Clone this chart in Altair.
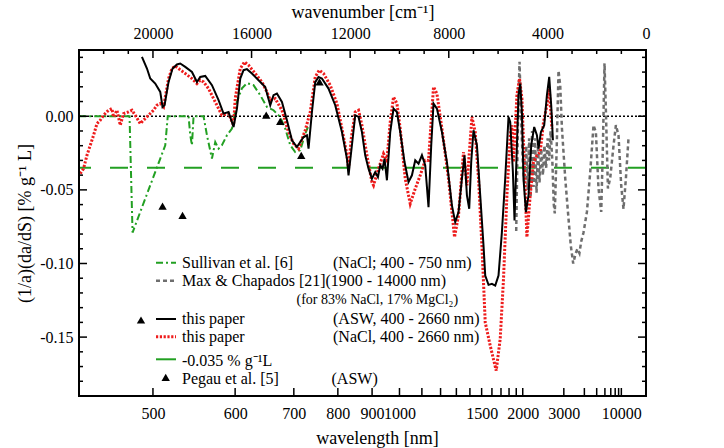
import altair as alt
import pandas as pd

FONT = "Liberation Serif"

# ---------------- data: x = wavenumber [cm^-1], y = (1/a)(da/dS) [% g^-1 L] ----------------
black_wn = [20447, 20243, 20110, 19907, 19704, 19611, 19530, 19367, 19205, 19027,
            18893, 18690, 18418, 18215, 18082, 17879, 17607, 17339, 17137, 16934,
            16731, 16593, 16459, 16325, 16188, 15985, 15717, 15445, 15242, 15109,
            14971, 14768, 14565, 14362, 14160, 13892, 13754, 13689, 13551, 13417,
            13283, 13146, 12878, 12606, 12334, 12131, 12067, 11929, 11795, 11661,
            11523, 11389, 11255, 11118, 10984, 10874, 10781, 10688, 10606, 10509,
            10375, 10241, 10103, 9970, 9795, 9633, 9495, 9361, 9227, 9089,
            8956, 8822, 8712, 8619, 8481, 8278, 8075, 7873, 7739, 7605,
            7467, 7362, 7264, 7171, 7090, 6997, 6859, 6725, 6591, 6522,
            6388, 6250, 6116, 5983, 5845, 5711, 5577, 5508, 5399, 5334,
            5236, 5171, 5102, 5033, 4969, 4871, 4766, 4656, 4535, 4425,
            4360, 4263, 4129, 4019, 3926, 3845, 3776]
black_val = [0.0403, 0.0324, 0.0256, 0.0222, 0.0165, 0.0063, 0.0075, 0.0233, 0.0324, 0.0352,
             0.0358, 0.0335, 0.0301, 0.0233, 0.0267, 0.0274, 0.0211, 0.0109, 0.0018, 0.0029,
             -0.0073, 0.0052, 0.0256, 0.0313, 0.032, 0.029, 0.0245, 0.0199, 0.0075, 0.0143,
             0.0154, 0.0097, -0.0027, -0.0163, -0.0209, -0.0141, -0.0129, -0.022, 0.0029, 0.0232,
             0.0267, 0.0256, 0.0188, 0.0075, -0.0107, -0.0288, -0.0401, -0.0197, 0.0007, -0.0005,
             -0.0107, -0.0265, -0.0356, -0.0424, -0.0379, -0.0413, -0.0333, -0.0356, -0.0288, -0.0435,
             -0.0107, 0.0052, 0.0029, -0.0107, -0.0311, -0.0447, -0.0401, -0.0299, -0.0322, -0.0265,
             -0.0333, -0.0617, -0.0197, 0.0086, 0.0052, -0.0107, -0.0311, -0.0605, -0.0719, -0.0651,
             -0.0424, -0.0265, -0.0537, -0.0628, -0.0311, -0.0095, -0.0197, -0.0537, -0.0878, -0.1082,
             -0.1145, -0.1138, -0.115, -0.1082, -0.0787, -0.0424, -0.0005, -0.0039, -0.0379, -0.0707,
             -0.0197, 0.0143, 0.0222, 0.0029, -0.0424, -0.0651, -0.0537, -0.0197, -0.0073, -0.0129,
             -0.022, -0.0107, -0.0061, 0.0143, 0.0267, 0.0075, -0.0163]

red_wn = [22949, 22815, 22677, 22543, 22409, 22271, 22138, 22004, 21801, 21663,
          21598, 21460, 21326, 21193, 20990, 20852, 20718, 20515, 20381, 20179,
          19976, 19838, 19704, 19570, 19367, 19229, 19096, 18962, 18690, 18418,
          18215, 18082, 17948, 17745, 17473, 17202, 16934, 16731, 16662, 16459,
          16285, 16123, 15851, 15579, 15376, 15242, 15040, 14768, 14500, 14297,
          14095, 13823, 13620, 13417, 13255, 13081, 12809, 12537, 12334, 12131,
          12067, 11957, 11795, 11661, 11523, 11320, 11118, 11053, 10850, 10647,
          10509, 10375, 10241, 10103, 9970, 9767, 9564, 9361, 9158, 8956,
          8822, 8619, 8481, 8278, 8011, 7767, 7605, 7402, 7264, 7061,
          6928, 6794, 6656, 6522, 6319, 6076, 5914, 5780, 5642, 5508,
          5439, 5374, 5236, 5131, 5033, 4940, 4831, 4697, 4563, 4425,
          4291, 4157, 4019, 3926, 3817]
red_val = [-0.039, -0.0356, -0.0265, -0.0197, -0.0129, -0.005, -0.0027, 0.0007, 0.0041, 0.0052,
           -0.0005, 0.0041, -0.0061, 0.0018, 0.0029, 0.0041, 0.0007, -0.005, -0.0027, 0.0007,
           0.0041, 0.0075, 0.0086, 0.0063, 0.0256, 0.0324, 0.0342, 0.0324, 0.029, 0.0256,
           0.0222, 0.0245, 0.0233, 0.0188, 0.0097, 0.0007, 0.0018, -0.0061, 0.012, 0.0324,
           0.0369, 0.0347, 0.029, 0.0233, 0.0165, 0.0109, 0.012, 0.0041, -0.0107, -0.0186,
           -0.022, -0.0095, 0.0029, 0.0267, 0.0313, 0.029, 0.0211, 0.0086, -0.0084, -0.0265,
           -0.0356, -0.0152, 0.0029, 0.0041, -0.0061, -0.0265, -0.0447, -0.0469, -0.0356, -0.0254,
           -0.0299, -0.0039, 0.0131, 0.0086, -0.0084, -0.0424, -0.0594, -0.0492, -0.0401, -0.0299,
           -0.030, 0.0199, 0.0154, -0.0084, -0.0424, -0.0821, -0.0673, -0.0243, -0.0469, -0.0005,
           -0.0107, -0.0424, -0.0878, -0.14, -0.1558, -0.1728, -0.1512, -0.1104, -0.0537, -0.0129,
           -0.0061, -0.0311, 0.0143, 0.0256, 0.012, -0.0311, -0.0821, -0.0537, -0.0311, -0.0265,
           -0.0243, -0.0039, 0.0075, 0.0188, -0.0084]

sull_wn = [22990, 20950, 20828, 19501, 19400, 18556, 18487, 18418, 18353, 17948,
           17810, 17607, 17473, 17339, 17202, 16999, 16796, 16593, 16390, 16188,
           15920, 15648, 15376, 15109, 14837, 14634, 14431, 14228, 14026, 13823, 13713]
sull_val = [0.0, 0.0, -0.079, -0.0197, 0.0, 0.0, -0.0129, -0.0197, 0.0, 0.0,
            -0.0129, -0.0288, -0.0175, -0.022, -0.0197, -0.0129, -0.0084, 0.010, 0.019, 0.0225,
            0.0211, 0.0143, 0.0063, 0.0041, -0.0005, -0.0084, -0.0197, -0.0243, -0.0231, -0.0118, -0.0073]

max_wn = [5265, 5190, 5130, 5070, 5000, 4940, 4860, 4800, 4740, 4680,
          4620, 4560, 4500, 4440, 4380, 4320, 4250, 4180, 4120, 4050,
          3990, 3930, 3870, 3800, 3740, 3700, 3620, 3549, 3480, 3411,
          3277, 3156, 3050, 2953, 2850, 2780, 2700, 2628, 2535, 2397,
          2263, 2129, 2032, 1927, 1817, 1748, 1683, 1626, 1545, 1452,
          1318, 1221, 1115, 1006, 913, 815, 710]
max_val = [-0.078, 0.0, 0.037, 0.0, -0.030, -0.045, -0.020, -0.050, -0.015, -0.055,
           -0.010, -0.048, -0.015, -0.052, -0.020, -0.045, -0.022, -0.040, -0.020, -0.035,
           -0.015, -0.030, -0.010, -0.030, -0.060, -0.066, -0.020, 0.031, 0.021, -0.008,
           -0.042, -0.067, -0.088, -0.100, -0.093, -0.090, -0.093, -0.085, -0.079, -0.065,
           -0.038, -0.006, -0.011, -0.049, -0.065, -0.020, 0.036, 0.003, -0.049, -0.042,
           -0.020, -0.006, -0.013, -0.047, -0.063, -0.042, -0.015]

pegau_wn = [19611, 18800, 15405, 14837, 13985, 13243]
pegau_val = [-0.061, -0.0673, 0.0007, -0.0034, -0.0265, 0.0233]

ref_level = -0.035

# axis ticks
WL_TICKS = [500, 600, 700, 800, 900, 1000, 1100, 1200, 1300, 1400, 1500, 1600, 1700,
            1800, 1900, 2000, 3000, 4000, 5000, 6000, 7000, 8000, 9000, 10000]
WL_LABELS = [500, 600, 700, 800, 900, 1000, 1500, 2000, 3000, 10000]
WN_TICKS = list(range(0, 23000, 1000))
Y_TICKS = [round(-0.19 + 0.01 * i, 2) for i in range(24)]

# legend texts
leg_names = ["Sullivan et al. [6]", "Max & Chapados [21](1900 - 14000 nm)", "this paper",
             "this paper", "-0.035 % g\u207b\u00b9L", "Pegau et al. [5]"]
leg_notes = ["(NaCl; 400 - 750 nm)", "(ASW, 400 - 2660 nm)", "(NaCl, 400 - 2660 nm)", "(ASW)"]
leg_sub = "(for 83% NaCl, 17% MgCl\u2082)"

# ---------------- styles ----------------
GREEN = "#22a022"
RED = "#ee1c1c"
GRAY = "#6e6e6e"
W, H = 567, 346
MAJ, MIN = 8, 4

X_DOM = [23000, 0]
Y_DOM = [-0.19, 0.045]
xs = alt.Scale(domain=X_DOM, nice=False, zero=False)
ys = alt.Scale(domain=Y_DOM, nice=False, zero=False)

wl_list = ",".join(str(v) for v in WL_LABELS)
bottom_axis = alt.Axis(
    orient="bottom", values=[1e7 / w for w in WL_TICKS],
    labelExpr=f"indexof([{wl_list}], round(1e7/datum.value)) >= 0 ? format(round(1e7/datum.value), 'd') : ''",
    ticks=False, domain=False, labelPadding=9, labelOverlap=False, labelFlush=False,
    title="wavelength [nm]", titleX=298, titleY=42, titleBaseline="middle")
left_axis = alt.Axis(
    orient="left", values=Y_TICKS,
    labelExpr="round(datum.value*100) % 5 === 0 ? replace(format(datum.value, '.2f'), '\u2212', '-') : ''",
    ticks=False, domain=False, labelPadding=6, labelOverlap=False, labelFlush=False,
    title="(1/a)(da/dS)  [% g\u207b\u00b9 L]", titleX=-54, titleY=173, titleBaseline="middle")
top_axis = alt.Axis(
    orient="top", values=WN_TICKS,
    labelExpr="datum.value % 4000 === 0 ? format(datum.value, 'd') : ''",
    ticks=False, domain=False, labelPadding=9, labelOverlap=False, labelFlush=False,
    title="wavenumber [cm\u207b\u00b9]", titleY=-38, titleBaseline="middle")
right_axis = alt.Axis(orient="right", values=Y_TICKS, labels=False, ticks=False,
                      domain=False, title=None)


def df(wn, val):
    return pd.DataFrame({"wn": wn, "val": val})


XE = alt.X("wn:Q", scale=xs, axis=bottom_axis)
YE = alt.Y("val:Q", scale=ys, axis=left_axis)


def enc(ch):
    return ch.encode(x=XE, y=YE)


ref_rule = alt.Chart(pd.DataFrame({"val": [ref_level]})).mark_rule(
    color=GREEN, strokeWidth=2, strokeDash=[18, 19]).encode(y=YE)
sull = enc(alt.Chart(df(sull_wn, sull_val)).mark_line(
    color=GREEN, strokeWidth=2, strokeDash=[7, 3, 2, 3]))
maxc = enc(alt.Chart(df(max_wn, max_val)).mark_line(
    color=GRAY, strokeWidth=2.5, strokeDash=[4, 3]))
red = enc(alt.Chart(df(red_wn, red_val)).mark_line(
    color=RED, strokeWidth=3, strokeDash=[2.2, 1.6]))
black = enc(alt.Chart(df(black_wn, black_val)).mark_line(color="black", strokeWidth=2))
pegau = enc(alt.Chart(df(pegau_wn, pegau_val)).mark_point(
    shape="triangle-up", filled=True, color="black", opacity=1, size=70))

main = alt.layer(ref_rule, sull, maxc, red, black, pegau)

zero_df = df([23000, 0], [0.0, 0.0])
zero = alt.Chart(zero_df).mark_line(
    color="black", strokeWidth=1.5, strokeDash=[2, 2]).encode(
    x=alt.X("wn:Q", scale=xs, axis=top_axis),
    y=alt.Y("val:Q", scale=ys, axis=right_axis))

# ---------------- frame + inward ticks: a separate layer with its own (identical) scales ---------
XF = alt.X("wn:Q", scale=xs, axis=None)
YF = alt.Y("val:Q", scale=ys, axis=None)
bt = pd.DataFrame({"wn": [1e7 / w for w in WL_TICKS]})
tt_maj = pd.DataFrame({"wn": [v for v in WN_TICKS if v % 4000 == 0]})
tt_min = pd.DataFrame({"wn": [v for v in WN_TICKS if v % 4000 != 0]})
yt_maj = pd.DataFrame({"val": [v for v in Y_TICKS if round(v * 100) % 5 == 0]})
yt_min = pd.DataFrame({"val": [v for v in Y_TICKS if round(v * 100) % 5 != 0]})
tk = dict(color="black", strokeWidth=1.5)
frame_layers = [
    alt.Chart(bt).mark_rule(**tk).encode(x=XF, y=alt.value(H), y2=alt.value(H - MAJ)),
    alt.Chart(tt_maj).mark_rule(**tk).encode(x=XF, y=alt.value(0), y2=alt.value(MAJ)),
    alt.Chart(tt_min).mark_rule(**tk).encode(x=XF, y=alt.value(0), y2=alt.value(MIN)),
    alt.Chart(yt_maj).mark_rule(**tk).encode(y=YF, x=alt.value(0), x2=alt.value(MAJ)),
    alt.Chart(yt_min).mark_rule(**tk).encode(y=YF, x=alt.value(0), x2=alt.value(MIN)),
    alt.Chart(yt_maj).mark_rule(**tk).encode(y=YF, x=alt.value(W), x2=alt.value(W - MAJ)),
    alt.Chart(yt_min).mark_rule(**tk).encode(y=YF, x=alt.value(W), x2=alt.value(W - MIN)),
    alt.Chart(pd.DataFrame({"a": [0]})).mark_rect(
        fillOpacity=0, stroke="black", strokeWidth=2).encode(
        x=alt.datum(X_DOM[0], scale=xs, axis=None), x2=alt.datum(X_DOM[1]),
        y=alt.datum(Y_DOM[0], scale=ys, axis=None), y2=alt.datum(Y_DOM[1])),
]
frame_layer = alt.layer(*frame_layers)

# ---------------- legend (pixel positions inside plot area) ----------------
px = lambda f: alt.X(f"{f}:Q", scale=None, axis=None)
py = lambda f: alt.Y(f"{f}:Q", scale=None, axis=None)

name_df = pd.DataFrame({"t": leg_names, "lx": [103] * 6,
                        "ly": [212.7, 230.7, 269, 286.7, 310.7, 329]})
note_df = pd.DataFrame({"t": leg_notes, "lx": [254, 254, 254, 252.5],
                        "ly": [212.7, 269, 286.7, 329]})
sub_df = pd.DataFrame({"t": [leg_sub], "lx": [217.5], "ly": [249.5]})

txt = dict(font=FONT, fontSize=16, color="black", align="left", baseline="middle")
leg_layers = [
    alt.Chart(name_df).mark_text(**txt).encode(x=px("lx"), y=py("ly"), text="t:N"),
    alt.Chart(note_df).mark_text(**txt).encode(x=px("lx"), y=py("ly"), text="t:N"),
    alt.Chart(sub_df).mark_text(**{**txt, "fontSize": 14}).encode(x=px("lx"), y=py("ly"), text="t:N"),
]
leg_lines = [
    (212.7, GREEN, 2, [7, 3, 2, 3]),
    (230.7, GRAY, 2.5, [4, 3]),
    (269.0, "black", 2, None),
    (286.7, RED, 3, [2.2, 1.6]),
    (309.3, GREEN, 2, None),
]
for yy, col, w, dash in leg_lines:
    kw = dict(color=col, strokeWidth=w)
    if dash:
        kw["strokeDash"] = dash
    ldf = pd.DataFrame({"lx": [77], "lx2": [97], "ly": [yy]})
    leg_layers.append(alt.Chart(ldf).mark_rule(**kw).encode(
        x=px("lx"), x2="lx2:Q", y=py("ly")))
tri_df = pd.DataFrame({"lx": [62, 86.7], "ly": [270, 327.3]})
leg_layers.append(alt.Chart(tri_df).mark_point(
    shape="triangle-up", filled=True, color="black", opacity=1, size=70).encode(
    x=px("lx"), y=py("ly")))
legend = alt.layer(*leg_layers)

chart = alt.layer(zero, main, legend, frame_layer).resolve_scale(
    x="independent", y="independent"
).properties(
    width=W, height=H, autosize="none",
    padding={"left": 79, "top": 50, "right": 78, "bottom": 52},
).configure_view(stroke="black", strokeWidth=2).configure_axis(
    labelFont=FONT, titleFont=FONT, labelFontSize=16, titleFontSize=18,
    labelColor="black", titleColor="black", titleFontWeight="normal",
    grid=False,
)

chart.save("out.html", embed_options={"renderer": "svg", "actions": False})
